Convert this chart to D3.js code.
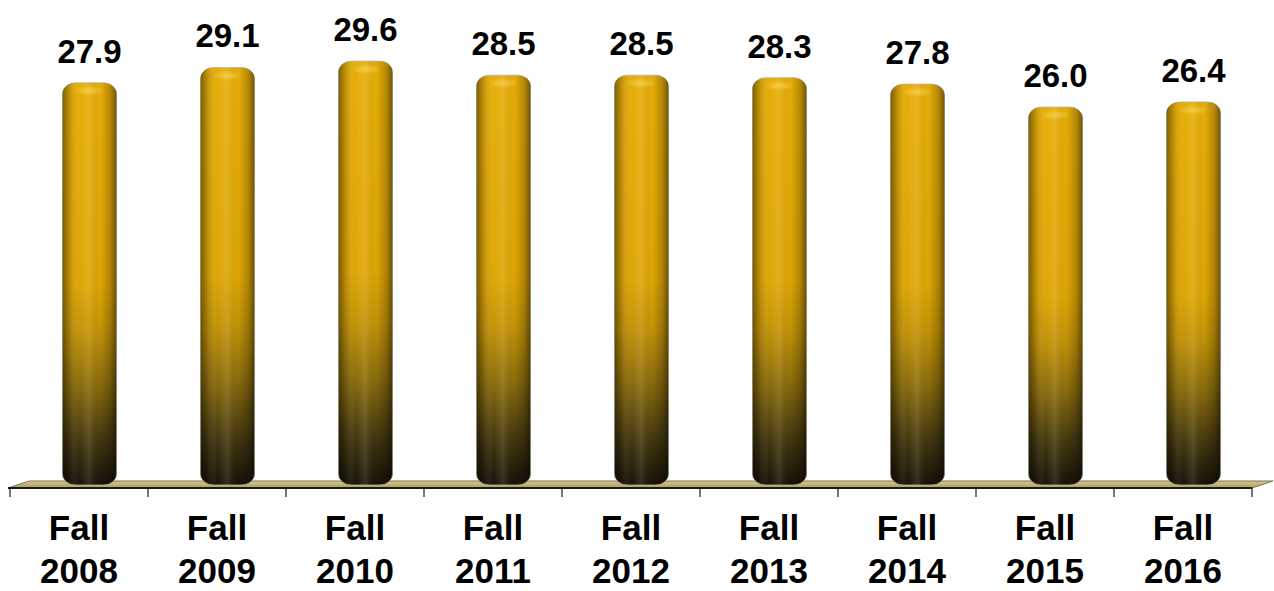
<!DOCTYPE html>
<html>
<head>
<meta charset="utf-8">
<script src="https://cdn.jsdelivr.net/npm/d3@7/dist/d3.min.js"></script>
<style>
  html, body { margin: 0; padding: 0; background: #ffffff; }
  svg { display: block; }
  text { font-family: "Liberation Sans", Arial, Helvetica, sans-serif; font-weight: bold; fill: #000; }
</style>
</head>
<body>
<svg id="chart" width="1274" height="591"></svg>
<script>
// Average class size by fall term
const terms = ["2008", "2009", "2010", "2011", "2012", "2013", "2014", "2015", "2016"];
const termPrefix = "Fall";
const values = [27.9, 29.1, 29.6, 28.5, 28.5, 28.3, 27.8, 26.0, 26.4];

const W = 1274, H = 591;
const svg = d3.select("#chart");
const defs = svg.append("defs");

// Layout
const axisY = 488;        // front edge of the floor
const floorDepth = 7;     // vertical depth of the floor
const floorShift = 21;    // horizontal skew of the floor's back edge
const barShift = 10.5;    // bars sit toward the back of the floor
const barWidth = 54;
const barBottom = 485;

const x = d3.scaleBand().domain(terms).range([10, 1252]).padding(0);
const y = d3.scaleLinear().domain([0, 30]).range([439, 56]);

// Gradients
const vGrad = defs.append("linearGradient").attr("id", "barV")
  .attr("x1", 0).attr("y1", 0).attr("x2", 0).attr("y2", 1);
[[0, "#e6ad08"], [0.5, "#dea505"], [0.62, "#c29208"], [0.75, "#8a6c0c"],
 [0.88, "#463a10"], [1, "#161208"]].forEach(([o, c]) =>
  vGrad.append("stop").attr("offset", o).attr("stop-color", c));

const hGrad = defs.append("linearGradient").attr("id", "barH")
  .attr("x1", 0).attr("y1", 0).attr("x2", 1).attr("y2", 0);
[[0, "#000", 0.45], [0.12, "#000", 0.18], [0.32, "#fff", 0.0], [0.5, "#fff5c0", 0.12],
 [0.7, "#000", 0.0], [0.88, "#000", 0.2], [1, "#000", 0.5]].forEach(([o, c, a]) =>
  hGrad.append("stop").attr("offset", o).attr("stop-color", c).attr("stop-opacity", a));

const capGrad = defs.append("radialGradient").attr("id", "cap")
  .attr("cx", 0.5).attr("cy", 0.5).attr("r", 0.5);
capGrad.append("stop").attr("offset", 0).attr("stop-color", "#ffe070").attr("stop-opacity", 0.55);
capGrad.append("stop").attr("offset", 1).attr("stop-color", "#ffe070").attr("stop-opacity", 0);

const floorGrad = defs.append("linearGradient").attr("id", "floor")
  .attr("x1", 0).attr("y1", 0).attr("x2", 0).attr("y2", 1);
floorGrad.append("stop").attr("offset", 0).attr("stop-color", "#d9c98c");
floorGrad.append("stop").attr("offset", 1).attr("stop-color", "#b09c55");

// Floor
const x0 = x.range()[0], x1 = x.range()[1];
svg.append("path")
  .attr("d", `M${x0 - 2},${axisY} L${x0 + floorShift - 2},${axisY - floorDepth} ` +
             `L${x1 + floorShift},${axisY - floorDepth} L${x1},${axisY} Z`)
  .attr("fill", "url(#floor)")
  .attr("stroke", "#7a7560").attr("stroke-width", 1);

// Axis line and boundary ticks
const axisG = svg.append("g").attr("transform", `translate(0,${axisY})`);
axisG.append("line").attr("x1", x0 - 2).attr("x2", x1).attr("y1", 0).attr("y2", 0)
  .attr("stroke", "#1a1a1a").attr("stroke-width", 2);
const boundaries = terms.map(t => x(t)).concat([x1]);
axisG.selectAll("line.tick").data(boundaries).join("line").attr("class", "tick")
  .attr("x1", d => d).attr("x2", d => d).attr("y1", 0).attr("y2", 9)
  .attr("stroke", "#1a1a1a").attr("stroke-width", 1.2);

// Bars
const cx = t => x(t) + x.bandwidth() / 2 + barShift;
const bars = svg.append("g").selectAll("g.bar").data(terms.map((t, i) => ({ t, v: values[i] })))
  .join("g").attr("class", "bar");

bars.append("rect")
  .attr("x", d => cx(d.t) - barWidth / 2).attr("y", d => y(d.v))
  .attr("width", barWidth).attr("height", d => barBottom - y(d.v))
  .attr("rx", 13).attr("ry", 11)
  .attr("fill", "url(#barV)")
  .attr("stroke", "#b8b3a0").attr("stroke-width", 0.8);

bars.append("rect")
  .attr("x", d => cx(d.t) - barWidth / 2).attr("y", d => y(d.v))
  .attr("width", barWidth).attr("height", d => barBottom - y(d.v))
  .attr("rx", 13).attr("ry", 11)
  .attr("fill", "url(#barH)");

bars.append("ellipse")
  .attr("cx", d => cx(d.t)).attr("cy", d => y(d.v) + 8)
  .attr("rx", 16).attr("ry", 5)
  .attr("fill", "url(#cap)");

// Value labels
bars.append("text")
  .attr("x", d => cx(d.t)).attr("y", d => y(d.v) - 20)
  .attr("text-anchor", "middle").attr("font-size", 33)
  .text(d => d.v.toFixed(1));

// Category labels
const labels = svg.append("g").selectAll("text.cat").data(terms).join("text")
  .attr("class", "cat").attr("text-anchor", "middle").attr("font-size", 35);
labels.append("tspan").attr("x", t => x(t) + x.bandwidth() / 2).attr("y", 540).text(termPrefix);
labels.append("tspan").attr("x", t => x(t) + x.bandwidth() / 2).attr("y", 583).text(t => t);
</script>
</body>
</html>
